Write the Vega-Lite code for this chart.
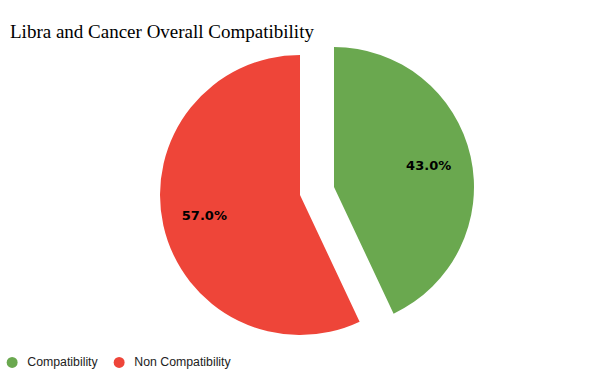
{
  "$schema": "https://vega.github.io/schema/vega-lite/v6.json",
  "width": 600,
  "height": 310,
  "autosize": "none",
  "padding": {"top": 40, "left": 0, "right": 0, "bottom": 29},
  "background": "white",
  "title": {
    "text": "Libra and Cancer Overall Compatibility",
    "anchor": "start",
    "frame": "group",
    "dx": 10,
    "offset": -2,
    "font": "Liberation Serif",
    "fontSize": 19,
    "fontWeight": "normal",
    "color": "#000000"
  },
  "data": {
    "values": [
      {"category": "Compatibility", "value": 0.43},
      {"category": "Non Compatibility", "value": 0.57}
    ]
  },
  "encoding": {
    "theta": {"field": "value", "type": "quantitative", "stack": true},
    "color": {
      "field": "category",
      "type": "nominal",
      "scale": {"domain": ["Compatibility", "Non Compatibility"], "range": ["#6aa84f", "#ee4539"]},
      "legend": {
        "title": null,
        "orient": "none",
        "legendX": 6,
        "legendY": 316,
        "direction": "horizontal",
        "symbolType": "circle",
        "symbolSize": 120,
        "symbolStrokeWidth": 0,
        "labelFont": "Liberation Sans",
        "labelFontSize": 12.3,
        "labelColor": "#222222",
        "labelOffset": 9,
        "columnPadding": 15
      }
    }
  },
  "layer": [
    {
      "mark": {"type": "arc", "outerRadius": 140, "xOffset": 34, "yOffset": -8},
      "encoding": {
        "opacity": {"condition": {"test": "datum.category === 'Compatibility'", "value": 1}, "value": 0}
      }
    },
    {
      "mark": {"type": "arc", "outerRadius": 140},
      "encoding": {
        "opacity": {"condition": {"test": "datum.category === 'Non Compatibility'", "value": 1}, "value": 0}
      }
    },
    {
      "mark": {"type": "text", "radius": 97, "xOffset": 34, "yOffset": -8, "font": "DejaVu Sans", "fontWeight": "bold", "fontSize": 13, "color": "#000000"},
      "encoding": {
        "text": {"field": "value", "type": "quantitative", "format": ".1%"},
        "color": {"value": "#000000"},
        "opacity": {"condition": {"test": "datum.category === 'Compatibility'", "value": 1}, "value": 0}
      }
    },
    {
      "mark": {"type": "text", "radius": 98, "font": "DejaVu Sans", "fontWeight": "bold", "fontSize": 13, "color": "#000000"},
      "encoding": {
        "text": {"field": "value", "type": "quantitative", "format": ".1%"},
        "color": {"value": "#000000"},
        "opacity": {"condition": {"test": "datum.category === 'Non Compatibility'", "value": 1}, "value": 0}
      }
    }
  ]
}
